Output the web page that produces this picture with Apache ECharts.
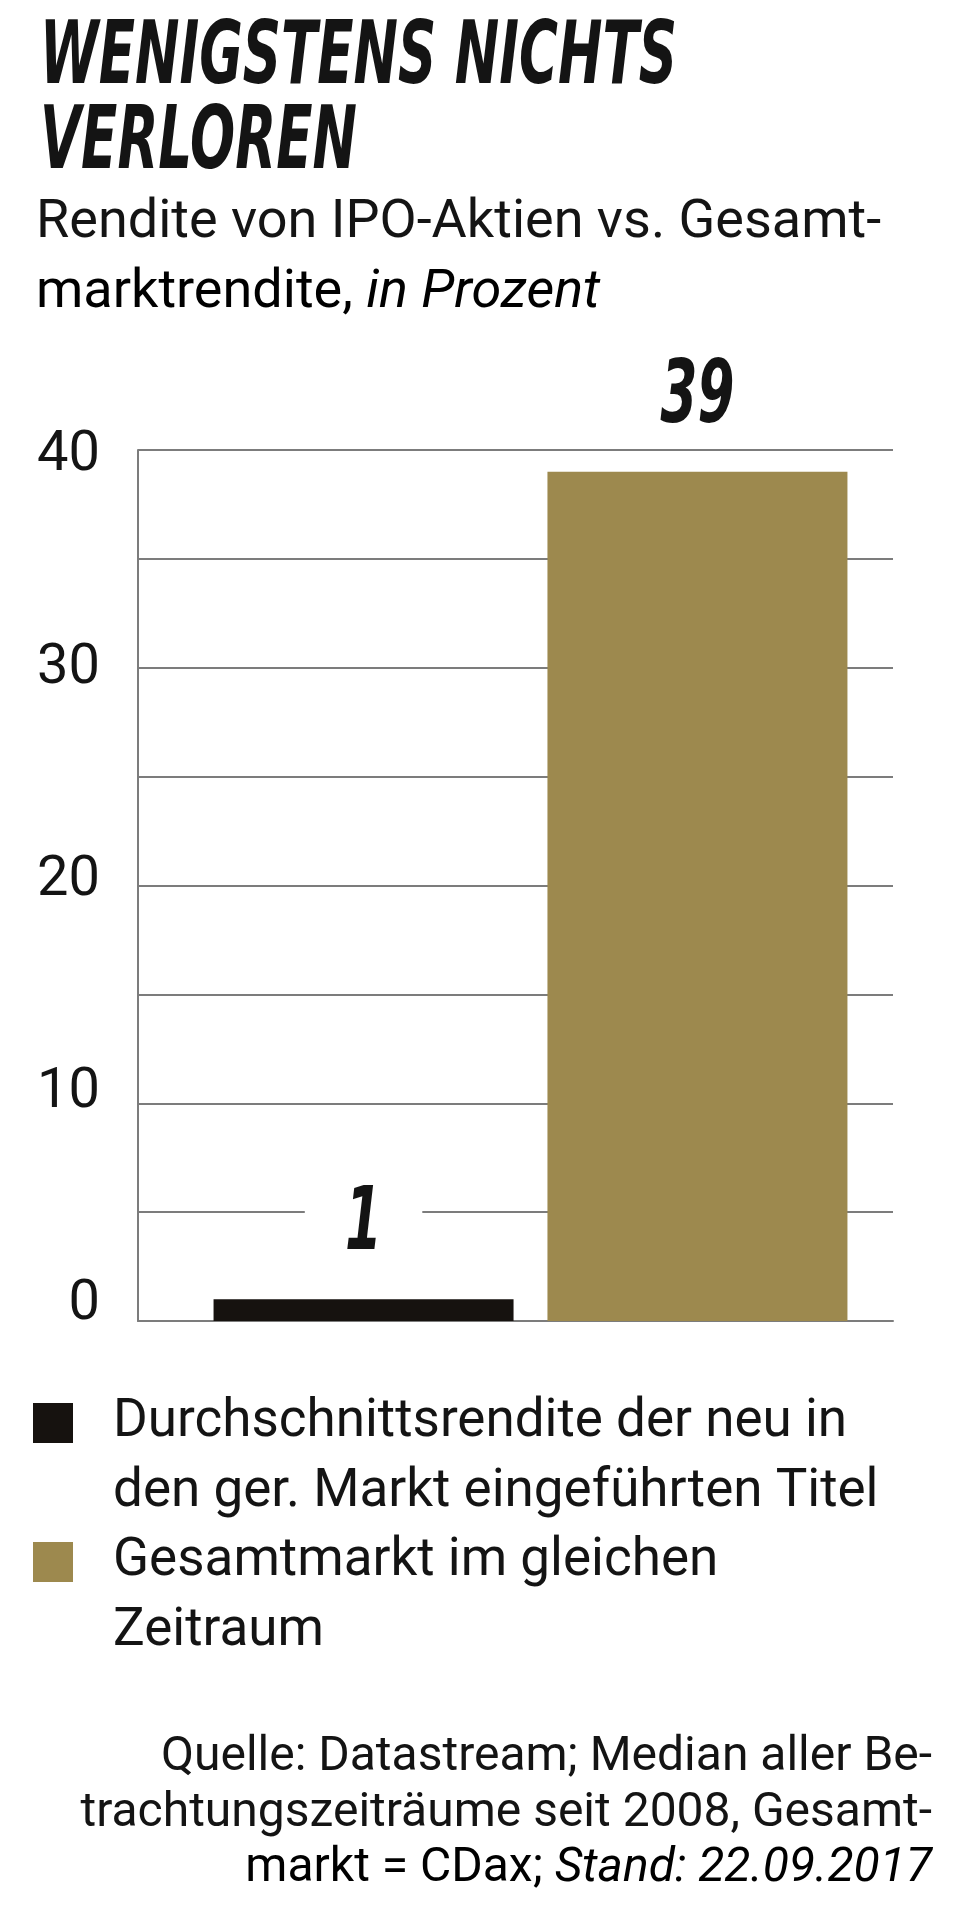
<!DOCTYPE html>
<html>
<head>
<meta charset="UTF-8">
<title>Wenigstens nichts verloren</title>
<script src="https://cdn.jsdelivr.net/npm/echarts@6/dist/echarts.min.js"></script>
<style>html, body { margin: 0; padding: 0; background: #fff; }</style>
</head>
<body>
<div id="main" style="width:960px;height:1913px;"></div>
<script>
// data read from the graphic
var categories = ['Rendite'];
var seriesNames = ['Durchschnittsrendite der neu in den ger. Markt eingeführten Titel', 'Gesamtmarkt im gleichen Zeitraum'];
var legendLines = [['Durchschnittsrendite der neu in', 'den ger. Markt eingeführten Titel'], ['Gesamtmarkt im gleichen', 'Zeitraum']];
var ipoValues = [1];
var marketValues = [39];
var yTicks = [0, 10, 20, 30, 40];
var titleLines = ['WENIGSTENS NICHTS', 'VERLOREN'];
var subtitleLine1 = 'Rendite von IPO-Aktien vs. Gesamt-';
var subtitleLine2 = ['marktrendite, ', 'in Prozent'];
var sourceLines = ['Quelle: Datastream; Median aller Be-', 'trachtungszeiträume seit 2008, Gesamt-', 'markt = CDax; ', 'Stand: 22.09.2017'];

var colors = ['#16120f', '#9d894e'];
var ink = '#141414';
var gridColor = '#7c7c7c';
var bodyFont = 'Roboto';
var headFont = '"DejaVu Sans Condensed", "DejaVu Sans"';

// squeeze the heavy headline font to the condensed look of the original
var ctx = document.createElement('canvas').getContext('2d');
ctx.font = 'italic bold 88px ' + headFont;
var headScale = 637 / ctx.measureText(titleLines[0]).width;

function tickRich() {
    var rich = {};
    yTicks.forEach(function (v) {
        var off = Math.round(-16 + 0.55 * v);
        rich['t' + v] = {
            fontFamily: bodyFont, fontSize: 56, color: ink,
            padding: off > 0 ? [2 * off, 0, 0, 0] : [0, 0, -2 * off, 0]
        };
    });
    return rich;
}

var myChart = echarts.init(document.getElementById('main'));

var option = {
    backgroundColor: '#fff',
    animation: false,
    graphic: [
        { type: 'text', id: 'title1', x: 40, y: 60, scaleX: headScale,
          style: { text: titleLines[0], fontFamily: headFont, fontSize: 88, fontWeight: 'bold', fontStyle: 'italic', fill: ink, verticalAlign: 'middle' } },
        { type: 'text', id: 'title2', x: 40, y: 145, scaleX: headScale,
          style: { text: titleLines[1], fontFamily: headFont, fontSize: 88, fontWeight: 'bold', fontStyle: 'italic', fill: ink, verticalAlign: 'middle' } },
        { type: 'text', id: 'sub1', x: 36, y: 223,
          style: { text: subtitleLine1, fontFamily: bodyFont, fontSize: 54, fill: ink, verticalAlign: 'middle' } },
        { type: 'text', id: 'sub2', x: 36, y: 293,
          style: { text: '{r|' + subtitleLine2[0] + '}{i|' + subtitleLine2[1] + '}', verticalAlign: 'middle',
                   rich: { r: { fontFamily: bodyFont, fontSize: 54, color: ink },
                           i: { fontFamily: bodyFont, fontSize: 54, fontStyle: 'italic', color: ink } } } },
        { type: 'text', id: 'src1', x: 932, y: 1758,
          style: { text: sourceLines[0], fontFamily: bodyFont, fontSize: 48, fill: ink, align: 'right', verticalAlign: 'middle' } },
        { type: 'text', id: 'src2', x: 932, y: 1814,
          style: { text: sourceLines[1], fontFamily: bodyFont, fontSize: 48, fill: ink, align: 'right', verticalAlign: 'middle' } },
        { type: 'text', id: 'src3', x: 932, y: 1869,
          style: { text: '{r|' + sourceLines[2] + '}{i|' + sourceLines[3] + '}', align: 'right', verticalAlign: 'middle',
                   rich: { r: { fontFamily: bodyFont, fontSize: 48, color: ink },
                           i: { fontFamily: bodyFont, fontSize: 48, fontStyle: 'italic', color: ink } } } }
    ],
    // one legend per series so that each square sits beside the first line of its text
    legend: seriesNames.map(function (name, i) {
        return {
            data: [name],
            orient: 'vertical',
            left: 33,
            top: [1318, 1457][i],
            padding: 0,
            icon: 'rect',
            itemWidth: 40,
            itemHeight: 40,
            selectedMode: false,
            formatter: function () {
                // blank lines on top keep the icon level with the first text line
                var pad = new Array(legendLines[i].length).join('\n');
                return pad + legendLines[i].join('\n');
            },
            textStyle: {
                fontFamily: bodyFont, fontSize: 53, lineHeight: 70, color: ink,
                padding: [0, 0, 0, 35]
            }
        };
    }),
    grid: [
        { left: 138, right: 67, top: 450, bottom: 592 },
        { left: 138, right: 37, top: 450, bottom: 592 }
    ],
    xAxis: [
        { gridIndex: 0, type: 'category', data: categories,
          axisLine: { show: true, lineStyle: { color: gridColor, width: 2 } },
          axisTick: { show: false }, axisLabel: { show: false } },
        { gridIndex: 1, type: 'category', data: categories, show: false }
    ],
    yAxis: [
        { gridIndex: 0, type: 'value', min: yTicks[0], max: yTicks[yTicks.length - 1], interval: 5,
          axisLine: { show: true, lineStyle: { color: gridColor, width: 2 } },
          axisTick: { show: false },
          splitLine: { show: true, lineStyle: { color: gridColor, width: 2 } },
          axisLabel: {
              margin: 38,
              formatter: function (v) { return v % 10 === 0 ? '{t' + v + '|' + v + '}' : ''; },
              rich: tickRich()
          } },
        { gridIndex: 1, type: 'value', min: yTicks[0], max: yTicks[yTicks.length - 1], interval: 5, show: false }
    ],
    series: [
        { name: seriesNames[0], type: 'bar', xAxisIndex: 1, yAxisIndex: 1, data: ipoValues,
          barWidth: 300, barGap: '11.3%', itemStyle: { color: colors[0] } },
        { name: seriesNames[1], type: 'bar', xAxisIndex: 1, yAxisIndex: 1, data: marketValues,
          barWidth: 300, barGap: '11.3%', itemStyle: { color: colors[1] } }
    ]
};

myChart.setOption(option);

// value labels above the bars, placed from the bar layout computed by echarts
var labelEls = [];
[ipoValues, marketValues].forEach(function (vals, si) {
    var data = myChart.getModel().getSeriesByIndex(si).getData();
    var lay = data.getItemLayout(0);
    var cx = lay.x + lay.width / 2;
    var top = Math.min(lay.y, lay.y + lay.height);
    labelEls.push({
        type: 'text', id: 'val' + si, x: cx, y: top - 73, scaleX: headScale, z: 10,
        style: {
            text: String(vals[0]), fontFamily: headFont, fontSize: 88, fontWeight: 'bold', fontStyle: 'italic',
            lineHeight: 88, fill: ink, align: 'center', verticalAlign: 'middle',
            backgroundColor: '#fff', padding: [4, 60, 4, 60]
        }
    });
});
myChart.setOption({ graphic: labelEls });
</script>
</body>
</html>
